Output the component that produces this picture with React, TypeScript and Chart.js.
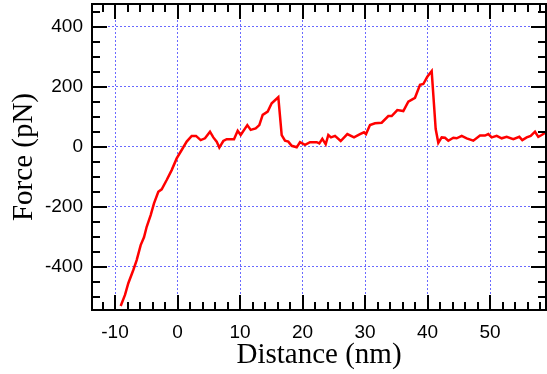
import { useEffect, useRef } from "react";
import { Chart, registerables } from "chart.js";

Chart.register(...registerables);

// Force–distance trace (retraction curve)
const distanceNm = [
  -9.09, -8.4, -7.87, -7.07, -6.53, -5.89, -5.36, -4.93, -4.29, -3.76, -3.07, -2.53, -1.73, -0.93, -0.13,
  0.67, 1.47, 2.27, 2.96, 3.71, 4.4, 5.2, 5.73, 6.27, 6.69, 7.33, 7.87, 9.04, 9.63, 10.11, 11.17, 11.71,
  12.51, 13.09, 13.63, 14.43, 15.07, 16.13, 16.67, 17.2, 17.73, 18.27, 19.07, 19.6, 20.4, 21.2, 22.27,
  22.69, 23.17, 23.71, 24.13, 24.56, 25.2, 26.11, 27.17, 28.24, 29.2, 29.84, 30.16, 30.8, 31.6, 32.67,
  33.73, 34.27, 35.17, 36.13, 36.93, 38.0, 38.8, 39.33, 39.97, 40.67, 41.31, 41.73, 42.27, 42.8, 43.33,
  44.13, 44.67, 45.47, 46.27, 47.33, 48.4, 49.2, 49.73, 50.27, 51.07, 51.87, 52.67, 53.73, 54.69, 55.17,
  55.87, 56.51, 57.2, 57.73, 58.27, 58.96,
];
const forcePn = [
  -531, -494, -455, -411, -378, -328, -302, -267, -228, -189, -150, -142, -111, -78, -39,
  -11, 17, 36, 36, 22, 28, 50, 31, 17, -3, 19, 25, 25, 53, 39, 72, 56,
  61, 72, 106, 117, 145, 165, 39, 20, 17, 3, -2, 15, 6, 15, 15,
  11, 26, 8, 39, 31, 36, 19, 42, 31, 42, 48, 42, 72, 78, 80,
  102, 102, 122, 119, 150, 163, 206, 209, 233, 252, 59, 13, 31, 30, 20,
  30, 28, 36, 28, 20, 37, 37, 42, 31, 36, 28, 33, 25, 33, 22,
  31, 36, 50, 33, 39, 48,
];

const xTickValues = [-10, 0, 10, 20, 30, 40, 50];
const yTickValues = [-400, -200, 0, 200, 400];
const xMinorStep = 2;
const yMinorStep = 50;

const X_MIN = -13.68;
const X_MAX = 58.96;
const Y_MIN = -544.3;
const Y_MAX = 475.7;

const MAJOR_LEN = 15;
const MINOR_LEN = 8;

// Closed black frame with inward major/minor ticks on all four sides
const frameTicksPlugin = {
  id: "frameTicks",
  afterDraw(chart: any) {
    const { ctx, chartArea: a, scales } = chart;
    const xs = scales.x;
    const ys = scales.y;
    ctx.save();
    ctx.strokeStyle = "#000";
    ctx.lineWidth = 2;
    ctx.lineCap = "butt";
    ctx.strokeRect(a.left, a.top, a.right - a.left, a.bottom - a.top);
    ctx.beginPath();
    for (let v = Math.ceil(X_MIN / xMinorStep) * xMinorStep; v <= X_MAX; v += xMinorStep) {
      const px = Math.round(xs.getPixelForValue(v));
      const len = v % 10 === 0 ? MAJOR_LEN : MINOR_LEN;
      ctx.moveTo(px, a.bottom);
      ctx.lineTo(px, a.bottom - len);
      ctx.moveTo(px, a.top);
      ctx.lineTo(px, a.top + len);
    }
    for (let v = Math.ceil(Y_MIN / yMinorStep) * yMinorStep; v <= Y_MAX; v += yMinorStep) {
      const py = Math.round(ys.getPixelForValue(v));
      const len = v % 200 === 0 ? MAJOR_LEN : MINOR_LEN;
      ctx.moveTo(a.left, py);
      ctx.lineTo(a.left + len, py);
      ctx.moveTo(a.right, py);
      ctx.lineTo(a.right - len, py);
    }
    ctx.stroke();
    ctx.restore();
  },
};

export default function App() {
  const canvasRef = useRef<HTMLCanvasElement | null>(null);

  useEffect(() => {
    const canvas = canvasRef.current;
    if (!canvas) return;
    const points = distanceNm.map((x, i) => ({ x, y: forcePn[i] }));
    const gridColor = "rgba(90, 90, 255, 0.9)";

    const chart = new Chart(canvas, {
      type: "line",
      data: {
        datasets: [
          {
            data: points,
            borderColor: "#ff0000",
            borderWidth: 2.5,
            pointRadius: 0,
            tension: 0,
            fill: false,
            clip: 0 as any,
          },
        ],
      },
      options: {
        animation: false,
        responsive: false,
        devicePixelRatio: 1,
        layout: { padding: { top: 4, right: 1, left: 0, bottom: 0 } },
        plugins: { legend: { display: false }, tooltip: { enabled: false } },
        scales: {
          x: {
            type: "linear",
            min: X_MIN,
            max: X_MAX,
            afterBuildTicks: (scale: any) => {
              scale.ticks = xTickValues.map((value) => ({ value }));
            },
            afterFit: (scale: any) => {
              scale.height = 64;
              scale.paddingLeft = 0;
              scale.paddingRight = 0;
            },
            grid: { color: gridColor, lineWidth: 1, drawTicks: false },
            border: { display: false, dash: [2, 2] },
            ticks: {
              autoSkip: false,
              maxRotation: 0,
              padding: 11,
              color: "#000",
              font: { family: "'Liberation Sans', Arial, sans-serif", size: 19 },
              callback: (v: any) => String(v),
            },
            title: {
              display: true,
              text: "Distance (nm)",
              color: "#000",
              font: { family: "'Liberation Serif', 'Times New Roman', serif", size: 29, lineHeight: 1 },
              padding: { top: 0, bottom: 4 },
            },
          },
          y: {
            type: "linear",
            min: Y_MIN,
            max: Y_MAX,
            afterBuildTicks: (scale: any) => {
              scale.ticks = yTickValues.map((value) => ({ value }));
            },
            afterFit: (scale: any) => {
              scale.width = 92;
              scale.paddingTop = 0;
              scale.paddingBottom = 0;
            },
            grid: { color: gridColor, lineWidth: 1, drawTicks: false },
            border: { display: false, dash: [2, 2] },
            ticks: {
              autoSkip: false,
              padding: 9,
              color: "#000",
              font: { family: "'Liberation Sans', Arial, sans-serif", size: 19 },
              callback: (v: any) => String(v),
            },
            title: {
              display: true,
              text: "Force (pN)",
              color: "#000",
              font: { family: "'Liberation Serif', 'Times New Roman', serif", size: 29, lineHeight: 1 },
              padding: { top: 10, bottom: 0 },
            },
          },
        },
      },
      plugins: [frameTicksPlugin],
    });

    return () => chart.destroy();
  }, []);

  return (
    <div style={{ position: "absolute", left: 0, top: 0, width: 547, height: 374, background: "#fff" }}>
      <canvas ref={canvasRef} width={547} height={374} style={{ display: "block" }} />
    </div>
  );
}
